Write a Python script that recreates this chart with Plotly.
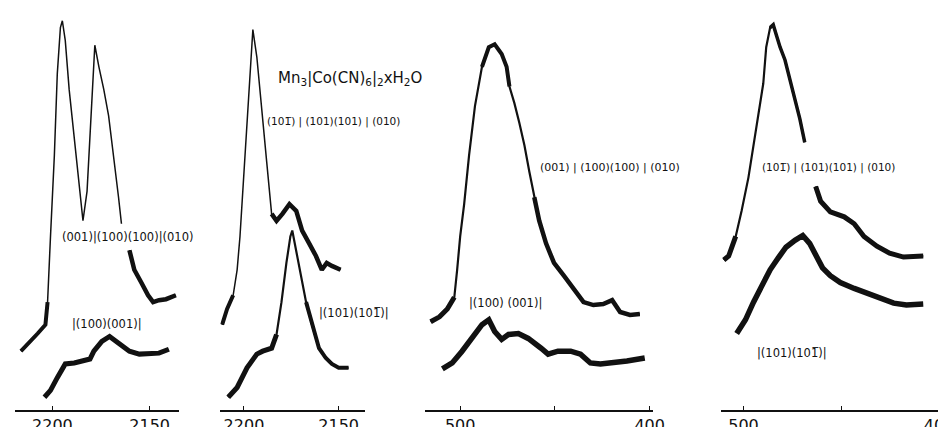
import plotly.graph_objects as go

# ---------------- data (wavenumber in cm-1, relative intensity) ----------------
# Panel 1: C-N stretch region, polarisation set 1
p1_top_wn = [2216.2, 2212.7, 2207.6, 2203.6, 2202.5, 2201.0, 2199.0, 2197.5, 2195.9, 2194.9,
             2193.4, 2191.4, 2188.8, 2186.3, 2184.3, 2182.2, 2180.2, 2178.2, 2176.1, 2173.6,
             2171.1, 2168.5, 2166.0, 2164.5, 2162.5, 2160.4, 2157.9, 2154.3, 2150.8, 2148.2,
             2145.2, 2141.6, 2136.5]
p1_top_val = [60, 67, 78, 87, 110, 177, 260, 343, 390, 397,
              377, 327, 277, 227, 193, 223, 293, 372, 350, 327,
              300, 260, 217, 190, None, 163, 143, 130, 117, 110,
              112, 113, 117]
p1_bot_wn = [2204.1, 2201.0, 2197.5, 2193.4, 2188.8, 2183.8, 2180.7, 2178.7, 2174.6, 2170.6,
             2165.5, 2160.4, 2155.3, 2150.3, 2145.2, 2140.1]
p1_bot_val = [13, 20, 33, 47, 48, 50, 52, 60, 70, 75,
              67, 60, 57, 57, 58, 62]

# Panel 2: C-N stretch region, polarisation set 2
p2_top_wn = [2211.5, 2208.9, 2205.7, 2203.6, 2202.1, 2200.5, 2198.4, 2196.9, 2195.3, 2193.2,
             2190.6, 2188.0, 2185.4, 2182.8, 2179.7, 2176.0, 2172.4, 2169.3, 2165.6, 2162.0,
             2158.9, 2156.3, 2153.6, 2149.0]
p2_top_val = [87, 103, 117, 143, 177, 227, 293, 350, 388, 360,
              310, 253, 200, 193, 200, 210, 203, 183, 170, 157,
              143, 150, 147, 143]
p2_bot_wn = [2208.3, 2203.6, 2198.4, 2193.2, 2190.1, 2185.4, 2182.8, 2180.2, 2177.6, 2175.5,
             2174.5, 2172.4, 2169.8, 2167.2, 2164.1, 2160.4, 2156.8, 2153.6, 2150.0, 2144.8]
p2_bot_val = [13, 23, 43, 57, 60, 63, 77, 110, 150, 177,
              183, 163, 137, 110, 87, 63, 53, 47, 43, 43]

# Panel 3: low-frequency region, polarisation set 1
p3_top_wn = [515.6, 510.9, 506.8, 503.1, 501.6, 500.0, 497.9, 495.3, 492.2, 488.5,
             484.9, 481.8, 478.1, 475.5, 474.0, 471.4, 468.8, 466.1, 463.5, 460.9,
             458.3, 454.7, 450.5, 445.3, 440.1, 434.9, 429.7, 424.5, 419.8, 415.6,
             410.4, 405.2]
p3_top_val = [90, 95, 103, 115, 143, 177, 210, 260, 310, 350,
              370, 373, 363, 350, 330, 313, 293, 270, 243, 217,
              193, 170, 150, 137, 123, 110, 107, 108, 112, 100,
              97, 98]
p3_bot_wn = [509.4, 504.2, 499.0, 493.8, 488.5, 484.9, 481.8, 478.1, 474.5, 469.3,
             464.1, 457.3, 453.6, 448.4, 441.7, 436.5, 431.3, 426.0, 419.3, 412.0,
             402.6]
p3_bot_val = [42, 48, 60, 73, 87, 92, 80, 72, 77, 78,
              73, 63, 57, 60, 60, 57, 48, 47, 48, 50,
              53]

# Panel 4: low-frequency region, polarisation set 2
p4_top_wn = [510.1, 507.6, 504.0, 501.0, 497.5, 494.9, 492.4, 489.9, 488.4, 486.4,
             484.8, 483.3, 481.3, 478.8, 476.3, 473.7, 471.2, 468.7, 466.0, 463.1,
             460.6, 455.6, 448.5, 443.4, 438.4, 431.8, 425.3, 418.2, 413.1, 408.1]
p4_top_val = [153, 157, 177, 203, 237, 270, 300, 333, 370, 390,
              393, 383, 370, 357, 337, 317, 297, 273, None, 228,
              213, 202, 197, 190, 177, 167, 160, 156, 157, 157]
p4_bot_wn = [503.5, 499.0, 494.9, 490.9, 486.4, 482.3, 478.3, 473.7, 469.7, 466.2,
             463.1, 459.6, 455.6, 450.5, 443.4, 436.9, 430.3, 423.2, 416.7, 408.1]
p4_bot_val = [78, 92, 110, 127, 143, 155, 166, 173, 178, 170,
              157, 145, 137, 130, 124, 119, 114, 109, 107, 108]

p12_ticks = [2200, 2150]
p12_ticktext = ["2200", "2150"]
p34_ticks = [500, 450, 400]
p34_ticktext = ["500", " ", "400"]

title_text = "Mn<sub>3</sub>|Co(CN)<sub>6</sub>|<sub>2</sub>xH<sub>2</sub>O"
OB = "1\u0305"  # 1 with overbar
labels = [
    "(001)|(100)(100)|(010)",
    "|(100)(001)|",
    "(10" + OB + ") | (101)(101) | (010)",
    "|(101)(10" + OB + ")|",
    "(001) | (100)(100) | (010)",
    "|(100) (001)|",
    "(10" + OB + ") | (101)(101) | (010)",
    "|(101)(10" + OB + ")|",
]

# ---------------- figure ----------------
W, H = 946, 427
MB = 17
INK = "#111111"
fig = go.Figure()

def add_curve(wn, val, axis, base_w, thick=()):
    fig.add_trace(go.Scatter(x=wn, y=val, mode="lines", xaxis=axis, yaxis="y",
                             line=dict(color=INK, width=base_w),
                             hoverinfo="skip", showlegend=False))
    for i0, i1, w in thick:
        fig.add_trace(go.Scatter(x=wn[i0:i1], y=val[i0:i1], mode="lines", xaxis=axis, yaxis="y",
                                 line=dict(color=INK, width=w),
                                 hoverinfo="skip", showlegend=False))

add_curve(p1_top_wn, p1_top_val, "x", 1.5, [(0, 5, 4), (25, 33, 4.5)])
add_curve(p1_bot_wn, p1_bot_val, "x", 5)
add_curve(p2_top_wn, p2_top_val, "x2", 1.5, [(0, 3, 4), (12, 24, 4.5)])
add_curve(p2_bot_wn, p2_bot_val, "x2", 2.2, [(0, 7, 5), (13, 20, 4)])
add_curve(p3_top_wn, p3_top_val, "x3", 2.2, [(0, 4, 5), (9, 15, 4), (19, 32, 4.5)])
add_curve(p3_bot_wn, p3_bot_val, "x3", 5.5)
add_curve(p4_top_wn, p4_top_val, "x4", 2.2, [(0, 3, 5), (9, 18, 3.5), (19, 30, 5)])
add_curve(p4_bot_wn, p4_bot_val, "x4", 5.5)

def px(xp):
    return xp / W

def py(yp):
    return (H - MB - yp) / (H - MB)

axis_common = dict(showline=True, linecolor=INK, linewidth=1.5, ticks="inside", ticklen=4,
                   tickwidth=1.2, tickcolor=INK, showgrid=False, zeroline=False,
                   tickfont=dict(family="DejaVu Sans", size=16, color=INK),
                   anchor="y", ticklabeloverflow="allow", fixedrange=True)

fig.update_layout(
    width=W, height=H,
    margin=dict(l=0, r=0, t=0, b=MB),
    paper_bgcolor="white", plot_bgcolor="white",
    xaxis=dict(domain=[px(7), px(173)], range=[2219.3, 2135.0],
               tickvals=p12_ticks, ticktext=p12_ticktext, **axis_common),
    xaxis2=dict(domain=[px(215), px(362)], range=[2212.5, 2135.9],
                tickvals=p12_ticks, ticktext=p12_ticktext, **axis_common),
    xaxis3=dict(domain=[px(422), px(653)], range=[518.75, 398.4],
                tickvals=p34_ticks, ticktext=p34_ticktext, **axis_common),
    xaxis4=dict(domain=[px(722), 1.0], range=[511.6, 398.5],
                tickvals=p34_ticks, ticktext=p34_ticktext, **axis_common),
    yaxis=dict(range=[0, H - MB], visible=False, fixedrange=True, domain=[0, 1]),
)

# label positions (paper coords) and sizes
lab_pos = [
    (px(53), py(234), "left", 11.5),
    (px(63), py(322), "left", 11.5),
    (px(260), py(116), "left", 10.5),
    (px(313), py(311), "left", 11.5),
    (px(537), py(163), "left", 11),
    (px(465), py(301), "left", 11.5),
    (px(762), py(163), "left", 10.5),
    (px(757), py(352), "left", 11.5),
]
for txt, (xx, yy, anc, fs) in zip(labels, lab_pos):
    fig.add_annotation(x=xx, y=yy, xref="paper", yref="paper", text=txt, showarrow=False,
                       xanchor=anc, yanchor="middle",
                       font=dict(family="DejaVu Sans", size=fs, color=INK))

fig.add_annotation(x=px(271), y=py(72), xref="paper", yref="paper", text=title_text,
                   showarrow=False, xanchor="left", yanchor="middle",
                   font=dict(family="DejaVu Sans", size=15, color=INK))

fig.write_html("out.html")
